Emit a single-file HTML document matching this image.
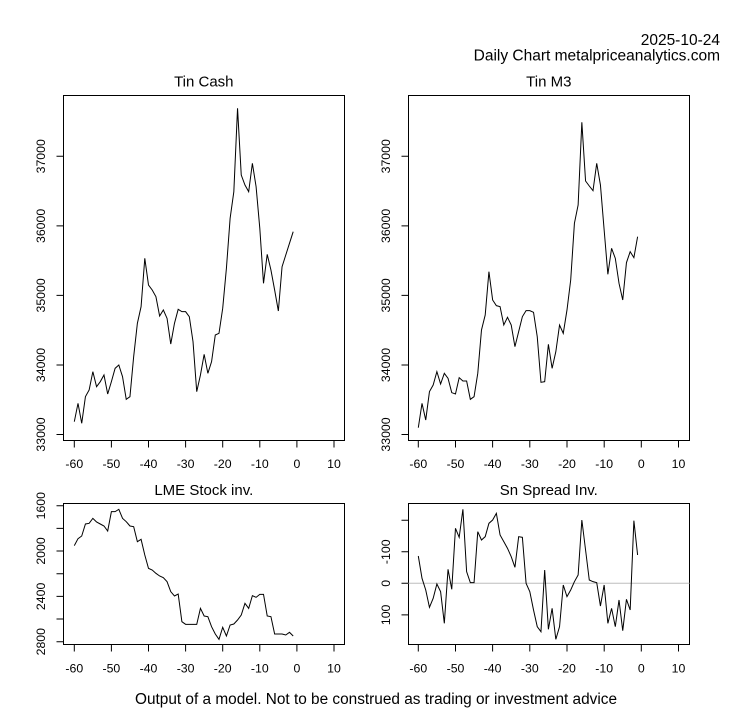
<!DOCTYPE html>
<html><head><meta charset="utf-8"><style>
html,body{margin:0;padding:0;background:#fff;}
svg{display:block;}
text{font-family:"Liberation Sans",Arial,sans-serif;fill:#000;}
.t{font-size:15px;text-anchor:middle;}
.a{font-size:12.3px;text-anchor:middle;}
.ln{fill:none;stroke:#000;stroke-width:1;}
</style></head><body>
<svg width="753" height="708" viewBox="0 0 753 708" xmlns="http://www.w3.org/2000/svg">
<rect width="753" height="708" fill="#fff"/>
<text x="720" y="45" style="font-size:15.5px;text-anchor:end">2025-10-24</text>
<text x="720" y="60.7" style="font-size:15.5px;text-anchor:end">Daily Chart metalpriceanalytics.com</text>

<!-- titles -->
<text class="t" x="203.8" y="86.7">Tin Cash</text>
<text class="t" x="548.8" y="86.7">Tin M3</text>
<text class="t" x="203.8" y="495">LME Stock inv.</text>
<text class="t" x="548.8" y="495">Sn Spread Inv.</text>

<!-- boxes -->
<rect class="ln" x="63.5" y="95.5" width="281" height="345"/>
<rect class="ln" x="408.5" y="95.5" width="281" height="345"/>
<rect class="ln" x="63.5" y="503.5" width="281" height="141"/>
<rect class="ln" x="408.5" y="503.5" width="281" height="141"/>

<!-- gray zero line -->
<line x1="408.5" y1="583.3" x2="689.5" y2="583.3" stroke="#bebebe" stroke-width="1"/>

<!-- x ticks top-left -->
<path class="ln" d="M74.3 440.5V447.5M111.4 440.5V447.5M148.5 440.5V447.5M185.6 440.5V447.5M222.7 440.5V447.5M259.8 440.5V447.5M296.9 440.5V447.5M334 440.5V447.5"/>
<g class="a">
<text class="a" x="74.3" y="468">-60</text><text class="a" x="111.4" y="468">-50</text><text class="a" x="148.5" y="468">-40</text><text class="a" x="185.6" y="468">-30</text><text class="a" x="222.7" y="468">-20</text><text class="a" x="259.8" y="468">-10</text><text class="a" x="296.9" y="468">0</text><text class="a" x="334" y="468">10</text>
</g>
<!-- x ticks top-right -->
<path class="ln" d="M418.3 440.5V447.5M455.5 440.5V447.5M492.6 440.5V447.5M529.8 440.5V447.5M567 440.5V447.5M604.2 440.5V447.5M641.3 440.5V447.5M678.5 440.5V447.5"/>
<text class="a" x="418.3" y="468">-60</text><text class="a" x="455.5" y="468">-50</text><text class="a" x="492.6" y="468">-40</text><text class="a" x="529.8" y="468">-30</text><text class="a" x="567" y="468">-20</text><text class="a" x="604.2" y="468">-10</text><text class="a" x="641.3" y="468">0</text><text class="a" x="678.5" y="468">10</text>
<!-- x ticks bottom-left -->
<path class="ln" d="M74.3 644.5V651.5M111.4 644.5V651.5M148.5 644.5V651.5M185.6 644.5V651.5M222.7 644.5V651.5M259.8 644.5V651.5M296.9 644.5V651.5M334 644.5V651.5"/>
<text class="a" x="74.3" y="672.5">-60</text><text class="a" x="111.4" y="672.5">-50</text><text class="a" x="148.5" y="672.5">-40</text><text class="a" x="185.6" y="672.5">-30</text><text class="a" x="222.7" y="672.5">-20</text><text class="a" x="259.8" y="672.5">-10</text><text class="a" x="296.9" y="672.5">0</text><text class="a" x="334" y="672.5">10</text>
<!-- x ticks bottom-right -->
<path class="ln" d="M418.3 644.5V651.5M455.5 644.5V651.5M492.6 644.5V651.5M529.8 644.5V651.5M567 644.5V651.5M604.2 644.5V651.5M641.3 644.5V651.5M678.5 644.5V651.5"/>
<text class="a" x="418.3" y="672.5">-60</text><text class="a" x="455.5" y="672.5">-50</text><text class="a" x="492.6" y="672.5">-40</text><text class="a" x="529.8" y="672.5">-30</text><text class="a" x="567" y="672.5">-20</text><text class="a" x="604.2" y="672.5">-10</text><text class="a" x="641.3" y="672.5">0</text><text class="a" x="678.5" y="672.5">10</text>

<!-- y ticks top-left -->
<path class="ln" d="M56.5 434.5H63.5M56.5 365H63.5M56.5 295.4H63.5M56.5 225.9H63.5M56.5 156.3H63.5"/>
<text class="a" transform="translate(45,434.5) rotate(-90)">33000</text>
<text class="a" transform="translate(45,365) rotate(-90)">34000</text>
<text class="a" transform="translate(45,295.4) rotate(-90)">35000</text>
<text class="a" transform="translate(45,225.9) rotate(-90)">36000</text>
<text class="a" transform="translate(45,156.3) rotate(-90)">37000</text>
<!-- y ticks top-right -->
<path class="ln" d="M401.5 434.5H408.5M401.5 365H408.5M401.5 295.4H408.5M401.5 225.9H408.5M401.5 156.3H408.5"/>
<text class="a" transform="translate(390,434.5) rotate(-90)">33000</text>
<text class="a" transform="translate(390,365) rotate(-90)">34000</text>
<text class="a" transform="translate(390,295.4) rotate(-90)">35000</text>
<text class="a" transform="translate(390,225.9) rotate(-90)">36000</text>
<text class="a" transform="translate(390,156.3) rotate(-90)">37000</text>
<!-- y ticks bottom-left -->
<path class="ln" d="M56.5 505.7H63.5M56.5 528.4H63.5M56.5 551H63.5M56.5 573.7H63.5M56.5 596.4H63.5M56.5 619H63.5M56.5 641.7H63.5"/>
<text class="a" transform="translate(45,505.7) rotate(-90)">1600</text>
<text class="a" transform="translate(45,551) rotate(-90)">2000</text>
<text class="a" transform="translate(45,596.4) rotate(-90)">2400</text>
<text class="a" transform="translate(45,641.7) rotate(-90)">2800</text>
<!-- y ticks bottom-right -->
<path class="ln" d="M401.5 520.2H408.5M401.5 551.75H408.5M401.5 583.3H408.5M401.5 614.85H408.5"/>
<text class="a" transform="translate(390,551.75) rotate(-90)">-100</text>
<text class="a" transform="translate(390,583.3) rotate(-90)">0</text>
<text class="a" transform="translate(390,614.85) rotate(-90)">100</text>

<!-- Tin Cash -->
<g transform="translate(74.3,80) scale(3.71,0.333333)">
<polyline class="ln" vector-effect="non-scaling-stroke" points="0,1025 1,970 2,1030 3,950 4,930 5,875 6,920 7,905 8,885 9,942 10,905 11,865 12,855 13,890 14,958 15,950 16,830 17,730 18,680 19,535 20,615 21,630 22,650 23,708 24,690 25,715 26,792 27,730 28,688 29,695 30,695 31,710 32,785 33,935 34,885 35,823 36,880 37,845 38,765 39,760 40,685 41,565 42,415 43,335 44,85 45,285 46,315 47,335 48,250 49,320 50,445 51,610 52,523 53,570 54,630 55,693 56,560 57,525 58,490 59,455"/>
</g>
<!-- Tin M3 -->
<g transform="translate(418.3,80) scale(3.717,0.333333)">
<polyline class="ln" vector-effect="non-scaling-stroke" points="0,1043 1,970 2,1020 3,935 4,915 5,875 6,912 7,880 8,895 9,938 10,942 11,893 12,903 13,903 14,958 15,950 16,880 17,750 18,705 19,575 20,660 21,677 22,680 23,735 24,712 25,735 26,800 27,755 28,710 29,692 30,692 31,697 32,770 33,907 34,905 35,793 36,865 37,815 38,735 39,760 40,690 41,600 42,430 43,375 44,127 45,303 46,318 47,332 48,250 49,315 50,450 51,583 52,505 53,535 54,610 55,660 56,548 57,515 58,533 59,470"/>
</g>
<!-- LME Stock -->
<g transform="translate(74.3,480) scale(3.71,0.333333)">
<polyline class="ln" vector-effect="non-scaling-stroke" points="0,197 1,176 2,168 3,132 4,130 5,115 6,126 7,132 8,138 9,153 10,95 11,95 12,88 13,115 14,125 15,138 16,140 17,185 18,178 19,225 20,265 21,270 22,280 23,288 24,293 25,305 26,335 27,348 28,342 29,425 30,433 31,433 32,433 33,433 34,385 35,408 36,410 37,440 38,462 39,478 40,442 41,468 42,435 43,432 44,420 45,405 46,370 47,385 48,347 49,352 50,343 51,343 52,408 53,410 54,462 55,462 56,462 57,465 58,457 59,468"/>
</g>
<!-- Sn Spread -->
<g transform="translate(418.3,480) scale(3.717,0.333333)">
<polyline class="ln" vector-effect="non-scaling-stroke" points="0,228 1,295 2,330 3,382 4,355 5,312 6,335 7,430 8,268 9,328 10,145 11,172 12,88 13,275 14,308 15,308 16,155 17,180 18,170 19,130 20,120 21,100 22,165 23,185 24,205 25,230 26,262 27,170 28,172 29,310 30,335 31,390 32,440 33,455 34,270 35,448 36,385 37,478 38,440 39,315 40,350 41,330 42,305 43,285 44,120 45,210 46,300 47,305 48,308 49,378 50,315 51,430 52,385 53,440 54,360 55,452 56,358 57,390 58,122 59,225"/>
</g>

<text x="376" y="704" style="font-size:15.5px;text-anchor:middle" textLength="482" lengthAdjust="spacingAndGlyphs">Output of a model. Not to be construed as trading or investment advice</text>
</svg>
</body></html>
